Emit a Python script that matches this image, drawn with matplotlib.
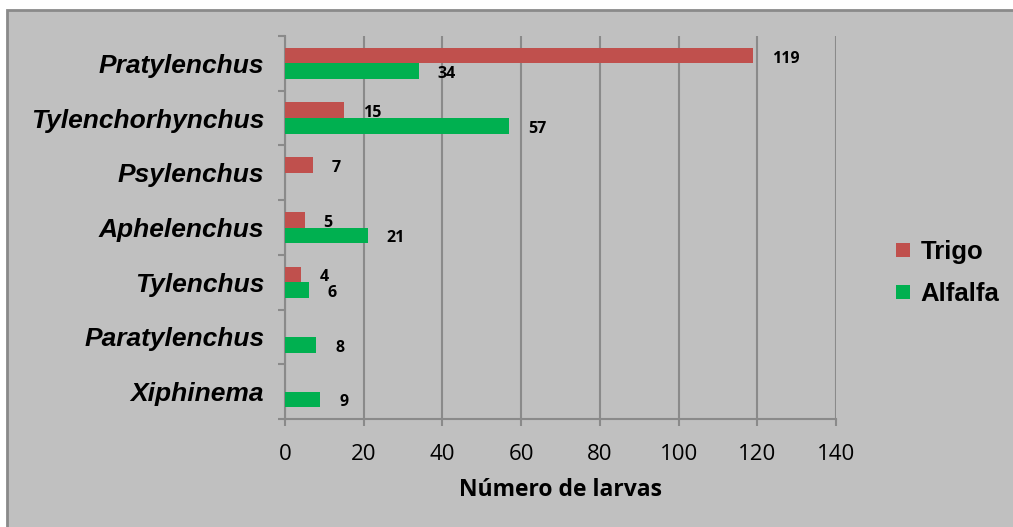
"""Horizontal grouped bar chart: nematode larvae counts per genus (Trigo vs Alfalfa)."""
import numpy as np
import matplotlib
matplotlib.use("Agg")
import matplotlib.pyplot as plt
from matplotlib.patches import Rectangle

# ── Data ────────────────────────────────────────────────────────────────────
genera = ["Pratylenchus", "Tylenchorhynchus", "Psylenchus", "Aphelenchus",
          "Tylenchus", "Paratylenchus", "Xiphinema"]
trigo = [119, 15, 7, 5, 4, np.nan, np.nan]
alfalfa = [34, 57, np.nan, 21, 6, 8, 9]
x_ticks = [0, 20, 40, 60, 80, 100, 120, 140]

RED = "#c0504d"
GREEN = "#00b050"
BG = "#c0c0c0"
LINE = "#8a8a8a"

W, H = 1013, 527
fig = plt.figure(figsize=(W / 100, H / 100), dpi=100, facecolor="white")

# outer chart area with its border
fig.patches.append(Rectangle((7 / W, -0.05), 1.2, (H - 10) / H + 0.05,
                             transform=fig.transFigure, facecolor=BG,
                             edgecolor=LINE, linewidth=2, zorder=-10))

ax = fig.add_axes([285 / W, 1 - 419 / H, (836 - 285) / W, (419 - 36) / H])
ax.set_facecolor(BG)

y = np.arange(len(genera))
h = 0.285
ax.barh(y - h / 2, trigo, height=h, color=RED, label="Trigo", zorder=3)
ax.barh(y + h / 2, alfalfa, height=h, color=GREEN, label="Alfalfa", zorder=3)

# value labels
for i in range(len(genera)):
    for vals, off in ((trigo, -h / 2), (alfalfa, h / 2)):
        v = vals[i]
        if np.isnan(v):
            continue
        ax.annotate(f"{int(v)}", (v, y[i] + off), xytext=(19, -3),
                    textcoords="offset pixels", ha="left", va="center",
                    fontsize=11.5, fontweight="bold", family="Open Sans",
                    color="black", zorder=4)

ax.set_xlim(0, 140)
ax.set_ylim(len(genera) - 0.5, -0.5)

ax.set_xticks(x_ticks)
ax.set_xticklabels([str(t) for t in x_ticks], family="Open Sans", fontsize=16)
ax.tick_params(axis="x", direction="out", length=5, width=1.5, color=LINE, pad=13)

ax.set_yticks(y)
ax.set_yticklabels(genera, family="Liberation Sans", fontsize=19,
                   fontweight="bold", fontstyle="italic")
ax.set_yticks(np.arange(len(genera) + 1) - 0.5, minor=True)
ax.tick_params(axis="y", which="major", length=0, pad=15)
ax.tick_params(axis="y", which="minor", direction="out", length=5, width=1.5, color=LINE)

ax.grid(axis="x", color=LINE, linewidth=1.5, zorder=1)
ax.set_axisbelow(True)
for side in ("top", "right"):
    ax.spines[side].set_visible(False)
for side in ("left", "bottom"):
    ax.spines[side].set_color(LINE)
    ax.spines[side].set_linewidth(1.5)

ax.set_xlabel("Número de larvas", family="Open Sans", fontsize=16.5,
              fontweight="bold", labelpad=9)

leg = fig.legend(loc="center left", bbox_to_anchor=(896 / W, 1 - 273 / H),
                 frameon=False, borderpad=0, borderaxespad=0,
                 handlelength=0.55, handleheight=0.5, handletextpad=0.4,
                 labelspacing=0.7,
                 prop={"family": "Liberation Sans", "weight": "bold", "size": 18.5})

fig.savefig("out.png", dpi=100, facecolor=fig.get_facecolor())
